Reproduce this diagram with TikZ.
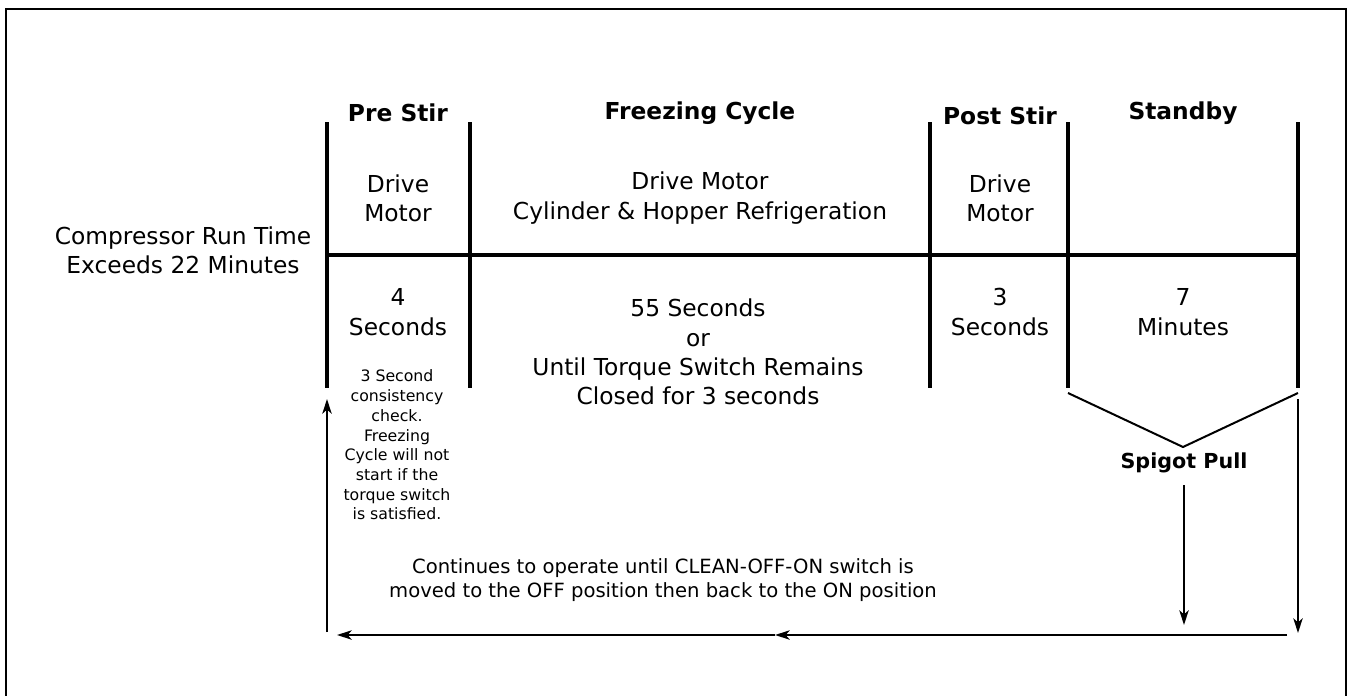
\documentclass[tikz,border=0pt]{standalone}
\usepackage{fontspec}
\setmainfont{DejaVu Sans}
\usetikzlibrary{positioning}
\usetikzlibrary{arrows.meta}

\begin{document}
\begin{tikzpicture}[x=0.75pt,y=-0.75pt,
    hdr/.style={font=\fontsize{17.5}{21}\selectfont\bfseries, anchor=base, inner sep=0pt},
    lbl/.style={font=\fontsize{17.5}{22}\selectfont, align=center, inner sep=0pt},
    note/.style={font=\fontsize{11.8}{14.8}\selectfont, align=center, inner sep=0pt},
    cont/.style={font=\fontsize{14.7}{18}\selectfont, align=center, inner sep=0pt},
    spig/.style={font=\fontsize{15.5}{18}\selectfont\bfseries, inner sep=0pt},
    bar/.style={line width=3pt},
    vline/.style={line width=1.5pt},
    arr/.style={line width=1.5pt, -{Stealth[length=11pt,width=7pt,inset=3pt]}}]

    \useasboundingbox (0,0) rectangle (1350,696);
    \draw[line width=2.2pt] (6,696) -- (6,9) -- (1346,9) -- (1346,696);

    % phase bars
    \foreach \x in {327,470,930,1068,1298}
        \draw[bar] (\x,122) -- (\x,388);
    \draw[bar] (327,255) -- (1298,255);

    % headers
    \node[hdr] (pre) at (398,121) {Pre Stir};
    \node[hdr] (frz) at (700,119) {Freezing Cycle};
    \node[hdr] (post) at (1000,124) {Post Stir};
    \node[hdr] (stby) at (1183,119) {Standby};

    \node[lbl] (comp) at (183,250) {Compressor Run Time\\Exceeds 22 Minutes};

    % what runs
    \node[lbl] (predrv) at (398,198) {Drive\\Motor};
    \node[lbl] (frzdrv) at (700,198) {Drive Motor\\Cylinder \& Hopper Refrigeration};
    \node[lbl] (postdrv) at (1000,198) {Drive\\Motor};

    % how long
    \node[lbl] (pretime) at (398,312) {4\\Seconds};
    \node[lbl] (frztime) at (698,352) {55 Seconds\\or\\Until Torque Switch Remains\\Closed for 3 seconds};
    \node[lbl] (posttime) at (1000,312) {3\\Seconds};
    \node[lbl] (stbytime) at (1183,312) {7\\Minutes};

    \node[note] (check) at (397,445) {3 Second\\consistency\\check.\\Freezing\\Cycle will not\\start if the\\torque switch\\is satisfied.};

    \node[spig] (spigot) at (1184,463) {Spigot Pull};

    \node[cont] (cont) at (663,580) {Continues to operate until CLEAN-OFF-ON switch is\\moved to the OFF position then back to the ON position};

    % return path
    \coordinate (vL) at (1068,393);
    \coordinate (vB) at (1183,447);
    \coordinate (vR) at (1298,393);
    \draw[vline] (vL) -- (vB) -- (vR);

    \coordinate (sp0) at (1184,485);
    \coordinate (sp1) at (1184,625);
    \draw[arr] (sp0) -- (sp1);

    \coordinate (rt0) at (1298,399);
    \coordinate (rt1) at (1298,633);
    \draw[arr] (rt0) -- (rt1);

    \coordinate (bt0) at (1287,635);
    \coordinate (btm) at (775,635);
    \coordinate (bt1) at (337,635);
    \draw[arr] (bt0) -- (btm);
    \draw[arr] (btm) -- (bt1);

    \coordinate (up0) at (327,632);
    \coordinate (up1) at (327,399);
    \draw[arr] (up0) -- (up1);
\end{tikzpicture}
\end{document}
